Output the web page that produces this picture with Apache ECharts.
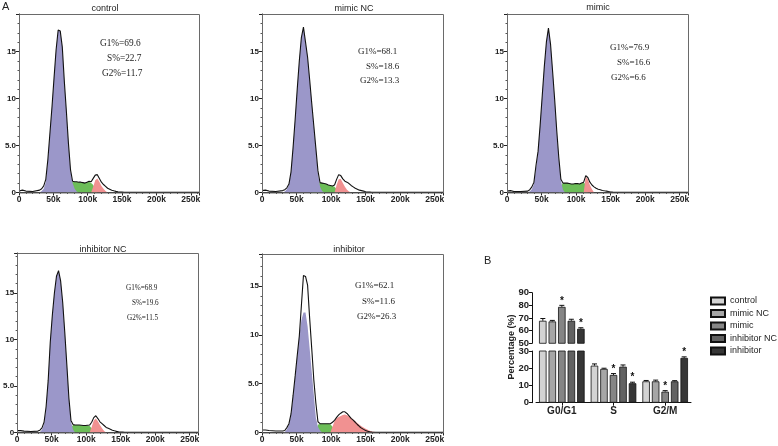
<!DOCTYPE html>
<html><head><meta charset="utf-8">
<script src="https://cdn.jsdelivr.net/npm/echarts@6/dist/echarts.min.js"></script>
<style>html,body{margin:0;padding:0;background:#fff}#c{width:778px;height:446px}</style>
</head><body><div id="c"></div>
<script>
// ---------- DATA ----------
// DNA content channel (k) sampling grid shared by all histograms
const X = [0,5,10,20,30, 33,36,39,42,45, 48,51,54,57,60, 63,66,69,72,75, 78,81,84,87,90, 93,96,99,102,105, 108,111,114,117,120, 123,126,129,132,135, 138,141,144,147,150, 153,156,159,170,200, 262];

// control
const ctrlAll = [0.15,0.25,0.15,0.1,0.25, 0.4,0.7,1.4,3.5,6.3, 9.1,12.2,15.2,17.3,17.2, 15.5,11.8,8.6,5.2,2.4, 1.2,1.15,1.15,1.1,1.1, 1.05,1.0,1.1,1.2,1.15, 1.5,1.85,1.9,1.5,1.1, 0.85,0.65,0.45,0.35,0.25, 0.18,0.12,0.08,0.05,0.04, 0.03,0.03,0.02,0.02,0.02, 0.02];
const ctrlG1 = [0, 0.15,0.4,1.1,3.3,6.3, 9.1,12.2,15.2,17.3,17.2, 15.5,11.8,8.6,5.2,2.3, 1.0,0.4,0.1,0];
const ctrlS  = [0,0.6,1.0, 1.15,1.15,1.15,1.1,1.1, 1.05,1.0,1.1,1.15,1.0, 0.8,0.3,0];
const ctrlG2 = [0, 0.6,1.3,1.5,1.15,0.7, 0.4,0.15,0];
// mimic NC
const mncAll = [0.2,0.25,0.15,0.1,0.2, 0.3,0.5,0.9,2.2,4.8, 7.8,11.0,14.0,16.5,17.6, 16.0,14.4,12.0,9.5,7.1, 4.7,2.3,1.05,1.0,0.95, 0.9,0.8,0.75,0.7,0.8, 1.4,1.9,1.8,1.45,1.2, 1.1,0.95,0.75,0.6,0.45, 0.35,0.25,0.2,0.15,0.08, 0.05,0.04,0.03,0.02,0.02, 0.02];
const mncG1 = [0, 0.1,0.35,0.8,2.1,4.8, 7.8,11.0,14.0,16.5,17.6, 16.0,14.4,12.0,9.5,7.1, 4.6,2.0,0.6,0.15,0];
const mncS  = [0,0.4, 0.75,0.95,1.0,1.0,0.95, 0.9,0.8,0.75,0.7,0.6, 0.35,0];
const mncG2 = [0, 0.8,1.4,1.45,1.0,0.6, 0.3,0.1,0];
// mimic
const mimAll = [0.15,0.2,0.1,0.1,0.15, 0.3,0.6,1.1,2.9,4.4, 7.2,10.3,13.4,16.0,17.5, 15.8,12.9,9.9,6.6,3.7, 1.4,1.0,1.0,1.0,0.95, 0.9,0.9,0.95,0.95,0.9, 1.0,1.1,1.8,1.6,1.1, 0.8,0.6,0.45,0.35,0.3, 0.22,0.18,0.15,0.1,0.06, 0.04,0.03,0.02,0.02,0.02, 0.02];
const mimG1 = [0, 0.1,0.35,0.9,2.6,4.4, 7.2,10.3,13.4,16.0,17.5, 15.8,12.9,9.9,6.6,3.6, 1.3,0.3,0];
const mimS  = [0, 0.7,1.0,1.0,1.0,0.95, 0.9,0.9,0.95,0.95,0.9, 1.0,1.05,0.9,0];
const mimG2 = [0,1.7,1.4,0.8, 0.35,0];
// inhibitor NC
const incAll = [0.2,0.2,0.15,0.1,0.15, 0.25,0.5,1.1,2.8,5.6, 9.7,12.6,15.0,16.8,17.4, 16.3,14.0,10.8,7.3,3.7, 1.3,0.85,0.8,0.8,0.8, 0.78,0.75,0.75,0.78,0.8, 1.1,1.6,1.8,1.5,1.15, 0.95,0.75,0.55,0.45,0.35, 0.25,0.18,0.12,0.08,0.05, 0.04,0.03,0.02,0.02,0.02, 0.02];
const incG1 = [0, 0.05,0.3,0.9,2.7,5.6, 9.7,12.6,15.0,16.8,17.4, 16.3,14.0,10.8,7.3,3.7, 1.2,0.3,0];
const incS  = [0, 0.5,0.8,0.8,0.8,0.8, 0.78,0.75,0.75,0.75,0.7, 0.45,0];
const incG2 = [0, 0.6,1.3,1.5,1.2,0.8, 0.45,0.15,0];
// inhibitor
const inhAll = [0.25,0.25,0.2,0.15,0.15, 0.2,0.5,0.9,1.9,3.8, 5.8,7.9,9.9,13.0,16.1, 16.0,15.1,11.7,8.6,5.4, 3.0,1.1,0.9,0.9,0.9, 0.9,0.9,0.9,1.05,1.25, 1.55,1.8,1.98,2.12,2.12, 1.95,1.7,1.45,1.26,1.05, 0.82,0.62,0.45,0.32,0.2, 0.12,0.07,0.04,0.03,0.02, 0.02];
const inhG1 = [0, 0.05,0.3,0.8,1.8,3.7, 5.7,7.8,9.9,11.5,12.3, 12.3,10.9,8.6,6.2,3.9, 1.5,0.6,0.2,0];
const inhS  = [0, 0.8,0.9,0.9,0.9, 0.9,0.9,0.85,0.6,0.2, 0];
const inhG2 = [0,0.6,1.15, 1.45,1.6,1.7,1.8,1.85, 1.78,1.65,1.5,1.33,1.15, 0.98,0.8,0.64,0.5,0.38, 0.27,0.18,0.1,0];

const panelNames = ['control','mimic NC','mimic','inhibitor NC','inhibitor'];
const g1Pct = ['69.6','68.1','76.9','68.9','62.1'];
const sPct  = ['22.7','18.6','16.6','19.6','11.6'];
const g2Pct = ['11.7','13.3','6.6','11.5','26.3'];
const xTicksK = [0,50,100,150,200,250];

// bar chart (B)
const phases = ['G0/G1','S','G2/M'];
const groups = ['control','mimic NC','mimic','inhibitor NC','inhibitor'];
const ctrlPct = [67.8, 21.5, 12.4];
const mncPct  = [67.3, 19.6, 12.4];
const mimPct  = [78.8, 16.1, 6.4];
const incPct  = [67.8, 20.9, 12.4];
const inhPct  = [61.5, 11.3, 26.0];
const ctrlErr = [1.8, 1.0, 0.5];
const mncErr  = [0.8, 0.4, 0.7];
const mimErr  = [1.2, 0.8, 0.6];
const incErr  = [1.2, 1.0, 0.4];
const inhErr  = [0.8, 0.6, 0.6];
const ctrlSig = [0,0,0], mncSig = [0,0,0], mimSig = [1,1,1], incSig = [0,0,0], inhSig = [1,1,1];

// ---------- BUILD ----------
const panels = [
  {all:ctrlAll, g1:[30,ctrlG1], s:[69,ctrlS], g2:[105,ctrlG2]},
  {all:mncAll,  g1:[30,mncG1],  s:[72,mncS],  g2:[105,mncG2]},
  {all:mimAll,  g1:[30,mimG1],  s:[75,mimS],  g2:[111,mimG2]},
  {all:incAll,  g1:[30,incG1],  s:[75,incS],  g2:[105,incG2]},
  {all:inhAll,  g1:[30,inhG1],  s:[78,inhS],  g2:[99,inhG2]}
];
const layout = [
  {left:19, top:14, width:180, height:178.5, ymax:19, title:[105,8.5], txt:[[100,43.3],[107,59],[102,73.3]], fs:9.3},
  {left:262, top:14, width:181, height:178.5, ymax:19, title:[354,8.5], txt:[[358,52],[366,67],[360,81]], fs:9},
  {left:507, top:14, width:181, height:178.5, ymax:19, title:[598,8], txt:[[610,48],[617,63],[611,78]], fs:9},
  {left:17, top:253, width:181, height:179.5, ymax:19.3, title:[103,249.3], txt:[[126,288],[132,303],[127,318]], fs:7.2},
  {left:262, top:254, width:181, height:178.5, ymax:18.3, title:[349,249.3], txt:[[355,286],[362,302],[357,317]], fs:9}
];
const SANS = '"Liberation Sans", Arial, sans-serif';
const SERIF = '"Liberation Serif", "Times New Roman", serif';
const PURPLE = '#9b97c9', GREEN = '#6cbd58', RED = '#f19191';

function seg(fromX, vals){ const s = X.indexOf(fromX); return vals.map((v,i)=>[X[s+i], v]); }

const grids = [], xAxes = [], yAxes = [], series = [], graphics = [];
layout.forEach((L, i) => {
  grids.push({left:L.left, top:L.top, width:L.width, height:L.height, containLabel:false});
  graphics.push({type:'rect', silent:true, z:50, shape:{x:L.left + 0.5, y:L.top + 0.5, width:L.width, height:L.height},
    style:{fill:'none', stroke:'#6a6a6a', lineWidth:1}});
  xAxes.push({type:'value', gridIndex:i, min:0, max:262, interval:50,
    axisLine:{show:true, onZero:false, lineStyle:{color:'#222', width:1}},
    axisTick:{show:true, length:3, lineStyle:{color:'#222'}},
    minorTick:{show:true, splitNumber:5, length:1.5, lineStyle:{color:'#444'}},
    splitLine:{show:false},
    axisLabel:{fontSize:8.5, fontWeight:'bold', color:'#222', fontFamily:SANS, margin:3, showMaxLabel:false,
      formatter: v => xTicksK.indexOf(v) < 0 ? '' : (v === 0 ? '0' : v + 'k')}});
  yAxes.push({type:'value', gridIndex:i, min:0, max:L.ymax, interval:5,
    axisLine:{show:true, lineStyle:{color:'#222', width:1}},
    axisTick:{show:true, length:3, lineStyle:{color:'#222'}},
    minorTick:{show:true, splitNumber:5, length:1.5, lineStyle:{color:'#555'}},
    splitLine:{show:false},
    axisLabel:{fontSize:8, fontWeight:'bold', color:'#222', fontFamily:SANS, margin:3, showMaxLabel:false,
      formatter: v => v === 0 ? '0' : v === 5 ? '5.0' : (v === 10 || v === 15) ? String(v) : ''}});
  const P = panels[i];
  const area = (d, color, z) => ({type:'line', xAxisIndex:i, yAxisIndex:i, data:d, symbol:'none', silent:true,
    lineStyle:{width:0, opacity:0}, areaStyle:{color:color, opacity:1}, z:z});
  series.push(area(seg(P.s[0], P.s[1]), GREEN, 2));
  series.push(area(seg(P.g1[0], P.g1[1]), PURPLE, 3));
  series.push(area(seg(P.g2[0], P.g2[1]), RED, 4));
  series.push({type:'line', xAxisIndex:i, yAxisIndex:i, data:X.map((x,k)=>[x, P.all[k]]), symbol:'none', silent:true,
    lineStyle:{color:'#111', width:1.1}, z:5});
  graphics.push({type:'text', x:L.title[0], y:L.title[1], style:{text:panelNames[i], fill:'#222', font:'9px ' + SANS, align:'center', verticalAlign:'middle'}});
  const lines = ['G1%=' + g1Pct[i], 'S%=' + sPct[i], 'G2%=' + g2Pct[i]];
  lines.forEach((t, j) => graphics.push({type:'text', x:L.txt[j][0], y:L.txt[j][1],
    style:{text:t, fill:'#222', font:L.fs + 'px ' + SERIF, align:'left', verticalAlign:'middle'}}));
});

// bar chart grids: 5 = lower (0-30), 6 = upper (50-90)
const BAR_W = 7.5, PITCH = 9.5;
grids.push({left:536, top:351, width:155, height:51.7});
grids.push({left:536, top:292.7, width:155, height:50.6});
const barAxisLabel = {fontSize:9.5, fontWeight:'bold', color:'#222', fontFamily:SANS, margin:3};
xAxes.push({type:'category', gridIndex:5, data:phases,
  axisLine:{show:true, lineStyle:{color:'#111', width:1}},
  axisTick:{show:true, alignWithLabel:true, length:3, lineStyle:{color:'#111'}},
  axisLabel:{fontSize:10, fontWeight:'bold', color:'#222', fontFamily:SANS, margin:4}});
xAxes.push({type:'category', gridIndex:6, data:phases, show:false});
yAxes.push({type:'value', gridIndex:5, min:0, max:30, interval:10, offset:4,
  axisLine:{show:true, lineStyle:{color:'#111', width:1}}, axisTick:{show:true, length:3, lineStyle:{color:'#111'}},
  splitLine:{show:false}, axisLabel:barAxisLabel});
yAxes.push({type:'value', gridIndex:6, min:50, max:90, interval:10, offset:4,
  axisLine:{show:true, lineStyle:{color:'#111', width:1}}, axisTick:{show:true, length:3, lineStyle:{color:'#111'}},
  splitLine:{show:false}, axisLabel:barAxisLabel});

const barVals = [ctrlPct, mncPct, mimPct, incPct, inhPct];
const barErrs = [ctrlErr, mncErr, mimErr, incErr, inhErr];
const barSigs = [ctrlSig, mncSig, mimSig, incSig, inhSig];
const barColors = ['#d3d3d3','#a6a6a6','#858585','#626262','#363636'];

function errSeries(s, axis, keep) {
  const data = [];
  barVals[s].forEach((v, c) => { if (keep(v)) data.push([c, v, v + barErrs[s][c], barSigs[s][c]]); });
  return {type:'custom', xAxisIndex:axis, yAxisIndex:axis, data:data, silent:true, z:6,
    renderItem(params, api) {
      const c = api.value(0);
      const p0 = api.coord([c, api.value(1)]);
      const p1 = api.coord([c, api.value(2)]);
      const x = p0[0] + (s - 2) * PITCH;
      const kids = [
        {type:'line', shape:{x1:x, y1:p0[1], x2:x, y2:p1[1]}, style:{stroke:'#111', lineWidth:1}},
        {type:'line', shape:{x1:x - 2.5, y1:p1[1], x2:x + 2.5, y2:p1[1]}, style:{stroke:'#111', lineWidth:1}}
      ];
      if (api.value(3)) kids.push({type:'text', x:x, y:p1[1] - 4.5,
        style:{text:'*', fill:'#111', font:'bold 10px ' + SANS, align:'center', verticalAlign:'middle'}});
      return {type:'group', children:kids};
    }};
}

groups.forEach((g, s) => {
  const st = {color:barColors[s], borderColor:'#111', borderWidth:0.8};
  series.push({type:'bar', name:g, xAxisIndex:5, yAxisIndex:5, data:barVals[s], barWidth:BAR_W, barGap:'27%', itemStyle:st, z:3});
  series.push({type:'bar', name:g, xAxisIndex:6, yAxisIndex:6, data:barVals[s].map(v => v >= 50 ? v : '-'), barWidth:BAR_W, barGap:'27%', itemStyle:st, z:3});
  series.push(errSeries(s, 5, v => v <= 30));
  series.push(errSeries(s, 6, v => v >= 50));
});

graphics.push({type:'text', x:2, y:7, style:{text:'A', fill:'#222', font:'11px ' + SANS, align:'left', verticalAlign:'middle'}});
graphics.push({type:'text', x:484, y:261, style:{text:'B', fill:'#222', font:'11px ' + SANS, align:'left', verticalAlign:'middle'}});
graphics.push({type:'text', x:512, y:347, rotation:Math.PI/2,
  style:{text:'Percentage (%)', fill:'#222', font:'bold 9px ' + SANS, align:'center', verticalAlign:'middle'}});

const chart = echarts.init(document.getElementById('c'));
chart.setOption({
  animation:false,
  backgroundColor:'#fff',
  grid:grids, xAxis:xAxes, yAxis:yAxes, series:series,
  legend:{data:groups, orient:'vertical', left:710, top:296, padding:[0,0,0,0], itemWidth:14, itemHeight:7, itemGap:2.5,
    selectedMode:false, icon:'rect',
    textStyle:{fontSize:9, fontFamily:SANS, color:'#222', lineHeight:10}},
  graphic:graphics
});
</script>
</body></html>
